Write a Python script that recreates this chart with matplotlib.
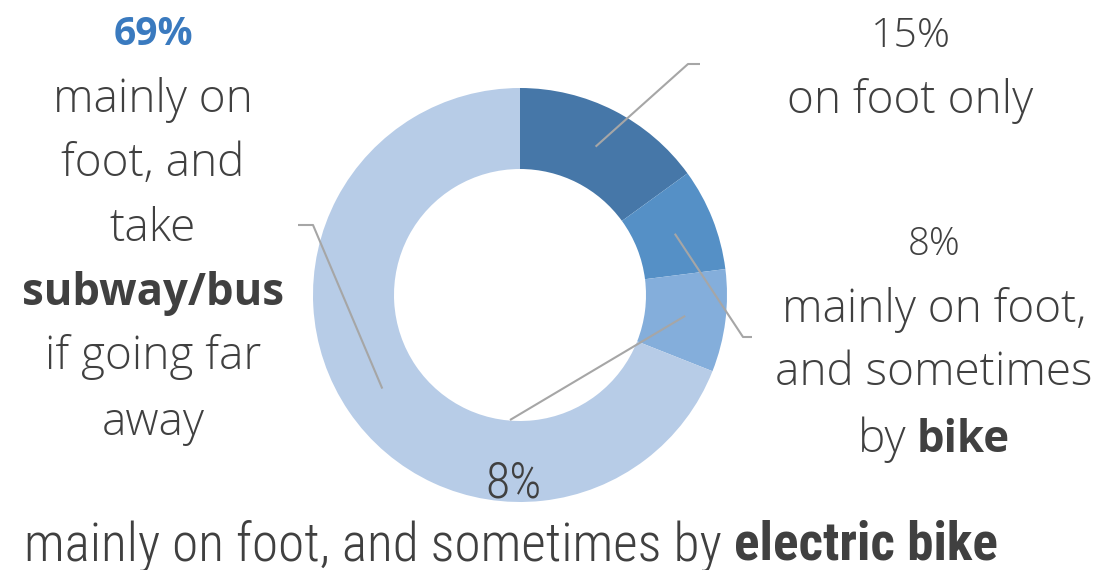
import numpy as np
import matplotlib
matplotlib.use("Agg")
import matplotlib.pyplot as plt

# share of respondents by how they get around
labels = ["on foot only", "foot + bike", "foot + electric bike", "foot + subway/bus"]
shares = [15, 8, 8, 69]
colors = ["#4677A8", "#5590C6", "#84AEDB", "#B7CCE7"]

W, H = 1119, 570
TEXT = "#404040"
LINE = "#A6A6A6"
LIGHT = dict(family="Open Sans", fontweight="light", fontsize=33, color=TEXT)
BOLD = dict(family="Open Sans", fontweight="bold", fontsize=31.5, color=TEXT)
PCT = dict(family="Open Sans", fontweight="light", fontsize=29.5, color=TEXT)
NARROW = dict(family="Roboto Condensed", fontweight="light", fontsize=38.3, color=TEXT)
NARROW_B = dict(family="Roboto Condensed", fontweight="bold", fontsize=38.3, color=TEXT)

fig = plt.figure(figsize=(W / 100, H / 100), dpi=100)
ax = fig.add_axes([0, 0, 1, 1])

cx, cy = 520, H - 295
r_out, r_in = 207, 126
wedges, _ = ax.pie(shares, colors=colors, startangle=90, counterclock=False,
                   center=(cx, cy), radius=r_out, frame=True,
                   wedgeprops=dict(width=r_out - r_in, linewidth=0))
ax.set_xlim(0, W)
ax.set_ylim(0, H)
ax.set_aspect("equal")
ax.axis("off")

renderer = fig.canvas.get_renderer()


def line_of_runs(xc, y_top, runs):
    """Draw a centred line made of (text, style) runs; y given from the top."""
    arts = [ax.text(0, H - y_top, s, ha="left", va="baseline", **st) for s, st in runs]
    widths = [a.get_window_extent(renderer).width for a in arts]
    x = xc - sum(widths) / 2
    for a, w in zip(arts, widths):
        a.set_x(x)
        x += w


def leader(wedge, pts):
    """Grey leader from the middle of a wedge's ring through the given points."""
    mid = np.deg2rad((wedge.theta1 + wedge.theta2) / 2)
    rm = (r_out + r_in) / 2
    xs = [cx + rm * np.cos(mid)] + [p[0] for p in pts]
    ys = [cy + rm * np.sin(mid)] + [H - p[1] for p in pts]
    ax.plot(xs, ys, color=LINE, lw=1.5, solid_capstyle="butt")


leader(wedges[0], [(688, 64), (700, 64)])
leader(wedges[1], [(743, 337), (752, 337)])
leader(wedges[2], [(510, 420)])
leader(wedges[3], [(313, 225), (298, 225)])

# 69% block on the left
line_of_runs(153, 45, [(f"{shares[3]}%", dict(BOLD, fontsize=28, color="#3A7ABF"))])
for y, runs in [(112, [("mainly on", LIGHT)]),
                (176, [("foot, and", LIGHT)]),
                (241, [("take", LIGHT)]),
                (305, [("subway/bus", BOLD)]),
                (369, [("if going far", LIGHT)]),
                (435, [("away", LIGHT)])]:
    line_of_runs(153, y, runs)

# 15% on the upper right
line_of_runs(911, 47, [(f"{shares[0]}%", PCT)])
line_of_runs(910, 113, [("on foot only", LIGHT)])

# 8% bike on the right
line_of_runs(934, 255, [(f"{shares[1]}%", dict(PCT, fontsize=27.5))])
line_of_runs(934, 322, [("mainly on foot,", LIGHT)])
line_of_runs(934, 385, [("and sometimes", LIGHT)])
line_of_runs(934, 452, [("by ", LIGHT), ("bike", BOLD)])

# 8% electric bike along the bottom
line_of_runs(513, 497, [(f"{shares[2]}%", dict(NARROW, fontsize=36))])
line_of_runs(511, 560, [("mainly on foot, and sometimes by ", NARROW), ("electric bike", NARROW_B)])

fig.savefig("out.png", dpi=100, facecolor="white")
